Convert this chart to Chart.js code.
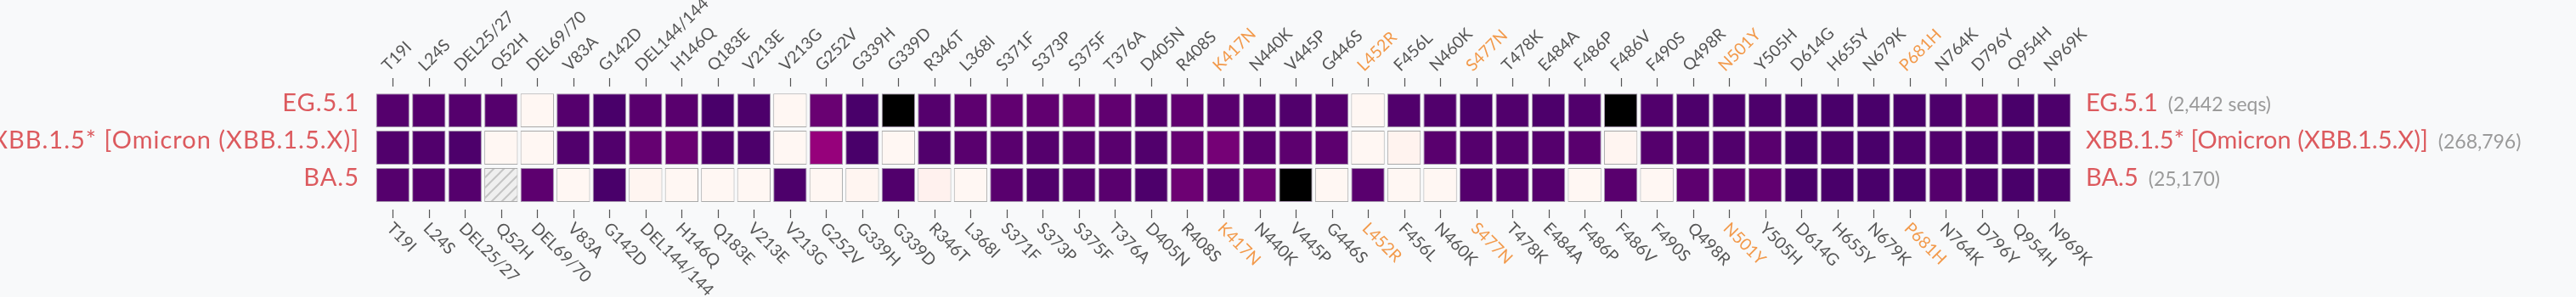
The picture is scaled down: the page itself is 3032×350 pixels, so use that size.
<!DOCTYPE html>
<html>
<head>
<meta charset="utf-8">
<script src="https://cdn.jsdelivr.net/npm/chart.js@4.4.0/dist/chart.umd.min.js"></script>
<style>
  html, body { margin: 0; padding: 0; background: #f8f9fa; }
  canvas { display: block; }
</style>
</head>
<body>
<canvas id="heatmap" width="3032" height="350"></canvas>
<script>
// mutations along the spike, in order
const mutations = ['T19I', 'L24S', 'DEL25/27', 'Q52H', 'DEL69/70', 'V83A', 'G142D', 'DEL144/144', 'H146Q', 'Q183E',
    'V213E', 'V213G', 'G252V', 'G339H', 'G339D', 'R346T', 'L368I', 'S371F', 'S373P', 'S375F',
    'T376A', 'D405N', 'R408S', 'K417N', 'N440K', 'V445P', 'G446S', 'L452R', 'F456L', 'N460K',
    'S477N', 'T478K', 'E484A', 'F486P', 'F486V', 'F490S', 'Q498R', 'N501Y', 'Y505H', 'D614G',
    'H655Y', 'N679K', 'P681H', 'N764K', 'D796Y', 'Q954H', 'N969K'];
const highlighted = ['K417N', 'L452R', 'S477N', 'N501Y', 'P681H'];

const lineages = ['EG.5.1', 'XBB.1.5* [Omicron (XBB.1.5.X)]', 'BA.5'];
const seqCounts = ['(2,442 seqs)', '(268,796)', '(25,170)'];

// prevalence of each mutation per lineage (null = no data)
const prevEG51 = [0.96, 0.96, 0.96, 0.96, 0, 0.96, 0.99, 0.95, 0.95, 0.99,
    0.98, 0, 0.91, 0.99, 1, 0.96, 0.94, 0.93, 0.93, 0.92,
    0.93, 0.96, 0.93, 0.95, 0.96, 0.97, 0.96, 0, 0.97, 0.97,
    0.98, 0.97, 0.98, 0.97, 1, 0.97, 0.98, 0.98, 0.98, 0.99,
    0.99, 0.99, 0.99, 0.98, 0.95, 0.99, 0.98];
const prevXBB15 = [0.97, 0.97, 0.98, 0, 0, 0.97, 0.97, 0.92, 0.91, 0.97,
    0.98, 0, 0.8, 0.99, 0, 0.97, 0.95, 0.95, 0.96, 0.95,
    0.95, 0.97, 0.92, 0.88, 0.95, 0.94, 0.94, 0, 0.02, 0.95,
    0.96, 0.96, 0.96, 0.95, 0.01, 0.96, 0.96, 0.97, 0.95, 0.99,
    0.98, 0.99, 0.98, 0.97, 0.98, 0.98, 0.98];
const prevBA5 = [0.96, 0.96, 0.96, null, 0.94, 0, 0.99, 0.01, 0, 0,
    0, 0.98, 0, 0.01, 0.97, 0.03, 0, 0.95, 0.97, 0.96,
    0.95, 0.98, 0.9, 0.95, 0.9, 1, 0, 0.95, 0, 0,
    0.96, 0.96, 0.96, 0, 0.95, 0, 0.94, 0.94, 0.93, 0.99,
    0.99, 0.99, 0.99, 0.96, 0.98, 0.99, 0.98];

const rows = [prevEG51, prevXBB15, prevBA5];

// RdPu stops, fixed mutations drawn black
const rdpu = ['#fff7f3', '#fde0dd', '#fcc5c0', '#fa9fb5', '#f768a1', '#dd3497', '#ae017e', '#7a0177', '#49006a'];

function hexToRgb(h) {
    return [parseInt(h.substr(1, 2), 16), parseInt(h.substr(3, 2), 16), parseInt(h.substr(5, 2), 16)];
}

function cellColor(v) {
    if (v >= 1) return '#000000';
    const t = Math.min(v / 0.99, 1) * (rdpu.length - 1);
    const i = Math.min(Math.floor(t), rdpu.length - 2);
    const f = t - i;
    const a = hexToRgb(rdpu[i]), b = hexToRgb(rdpu[i + 1]);
    const c = a.map((x, k) => Math.round(x + (b[k] - x) * f));
    return `rgb(${c[0]},${c[1]},${c[2]})`;
}

// hatch for missing values
const patCanvas = document.createElement('canvas');
patCanvas.width = 12;
patCanvas.height = 12;
const pctx = patCanvas.getContext('2d');
pctx.fillStyle = '#efefef';
pctx.fillRect(0, 0, 12, 12);
pctx.strokeStyle = '#c4c4c4';
pctx.lineWidth = 2;
pctx.beginPath();
pctx.moveTo(0, 12); pctx.lineTo(12, 0);
pctx.moveTo(-6, 6); pctx.lineTo(6, -6);
pctx.moveTo(6, 18); pctx.lineTo(18, 6);
pctx.stroke();
const hatch = document.getElementById('heatmap').getContext('2d').createPattern(patCanvas, 'repeat');

const datasets = rows.map((vals, r) => ({
    label: lineages[r],
    data: vals.map(() => [r - 0.455, r + 0.455]),
    backgroundColor: vals.map(v => v === null ? hatch : cellColor(v)),
    borderColor: vals.map(v => (v === null || v < 0.3) ? '#a9a9a9' : '#a595ad'),
    borderWidth: 1,
    borderSkipped: false,
    grouped: false,
    barPercentage: 0.925,
    categoryPercentage: 1
}));

const FONT = 'Lato, "Noto Sans", sans-serif';

// labels, ticks and row names, placed from the scales
const heatLabels = {
    id: 'heatLabels',
    afterDraw: (chart) => {
        const ctx = chart.ctx;
        const xs = chart.scales.x;
        const ys = chart.scales.y;
        const area = chart.chartArea;
        ctx.save();

        mutations.forEach((m, i) => {
            const x = Math.round(xs.getPixelForValue(i)) + 0.5;
            ctx.strokeStyle = '#555';
            ctx.lineWidth = 1.2;
            ctx.beginPath();
            ctx.moveTo(x, area.top - 10); ctx.lineTo(x, area.top);
            ctx.moveTo(x, area.bottom); ctx.lineTo(x, area.bottom + 10);
            ctx.stroke();

            ctx.fillStyle = highlighted.includes(m) ? '#f2994a' : '#555';
            ctx.font = `19.5px ${FONT}`;
            ctx.letterSpacing = '0px';
            ctx.textAlign = 'left';

            ctx.save();
            ctx.translate(x - 5, area.top - 17);
            ctx.rotate(-Math.PI / 4);
            ctx.textBaseline = 'alphabetic';
            ctx.fillText(m, 0, 0);
            ctx.restore();

            ctx.save();
            ctx.translate(x + 3, area.bottom + 12);
            ctx.rotate(Math.PI / 4);
            ctx.textBaseline = 'top';
            ctx.fillText(m, 0, 0);
            ctx.restore();
        });

        lineages.forEach((name, r) => {
            const y = ys.getPixelForValue(r) + 1;
            ctx.textBaseline = 'alphabetic';
            ctx.font = `29px ${FONT}`;
            ctx.fillStyle = '#dc5a5e';
            ctx.letterSpacing = '1px';
            ctx.textAlign = 'right';
            ctx.fillText(name, area.left - 18, y);

            ctx.letterSpacing = '0px';
            ctx.textAlign = 'left';
            ctx.fillText(name, area.right + 16, y);
            const w = ctx.measureText(name).width;
            ctx.font = `23px ${FONT}`;
            ctx.fillStyle = '#9a9a9a';
            ctx.fillText(seqCounts[r], area.right + 16 + w + 12, y);
        });
        ctx.restore();
    }
};

new Chart(document.getElementById('heatmap'), {
    type: 'bar',
    data: {
        labels: mutations,
        datasets: datasets
    },
    options: {
        responsive: false,
        animation: false,
        layout: {
            padding: { left: 441, right: 593, top: 102, bottom: 103 }
        },
        scales: {
            x: { display: false, offset: true },
            y: { display: false, min: -0.64, max: 2.66, reverse: true }
        },
        plugins: {
            legend: { display: false },
            tooltip: { enabled: false }
        }
    },
    plugins: [heatLabels]
});
</script>
</body>
</html>
